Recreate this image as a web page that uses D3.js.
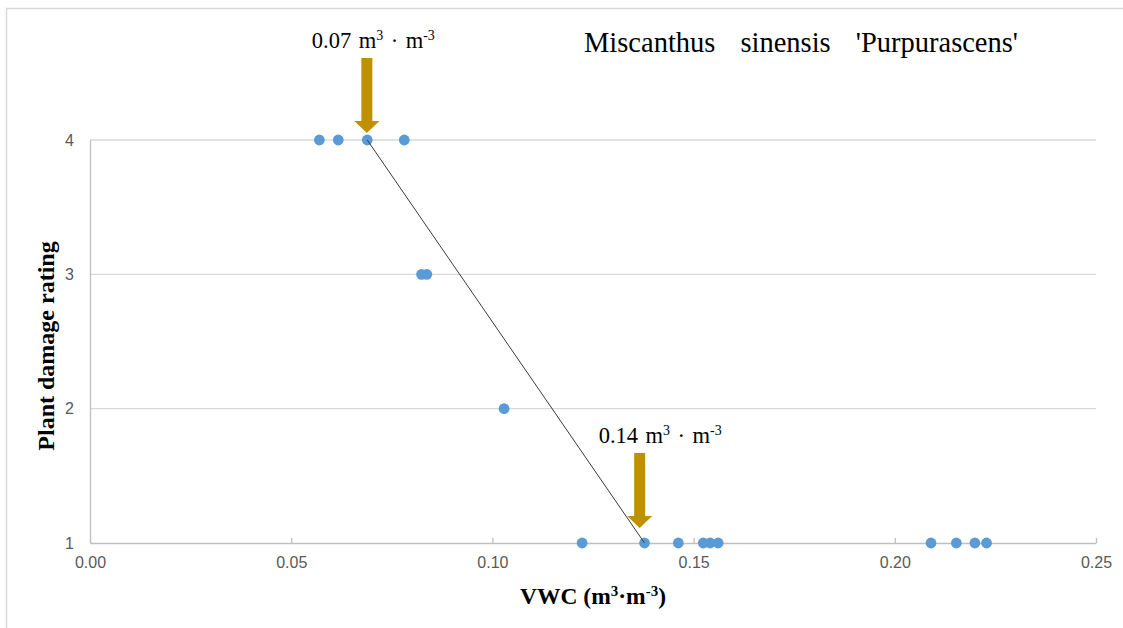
<!DOCTYPE html>
<html>
<head>
<meta charset="utf-8">
<script src="https://cdn.jsdelivr.net/npm/d3@7"></script>
<style>
  html, body { margin: 0; padding: 0; background: #fff; }
  svg { display: block; }
</style>
</head>
<body>
<svg id="chart" width="1123" height="628"></svg>
<script>
// Observed volumetric water content (m3/m3) and the damage rating recorded for each plant
const vwc = [0.0570, 0.0617, 0.0689, 0.0781,
             0.0824, 0.0837,
             0.1029,
             0.1223, 0.1378, 0.1462, 0.1524, 0.1541, 0.1561,
             0.2090, 0.2153, 0.2199, 0.2228];
const rating = [4, 4, 4, 4,
                3, 3,
                2,
                1, 1, 1, 1, 1, 1,
                1, 1, 1, 1];

// Fitted decline between the last fully damaged and first undamaged reading
const fitX = [0.0689, 0.1378];
const fitY = [4, 1];

// Threshold callouts
const calloutX = [0.0688, 0.1366];
const calloutY = [4, 1];
const calloutValue = ["0.07", "0.14"];

const xTicks = [0.00, 0.05, 0.10, 0.15, 0.20, 0.25];
const yTicks = [1, 2, 3, 4];

const title = "Miscanthus sinensis 'Purpurascens'";
const xTitle = "VWC";
const yTitle = "Plant damage rating";

const serif = "'Liberation Serif', 'Times New Roman', serif";
const sans = "'Liberation Sans', Arial, sans-serif";

const svg = d3.select("#chart");

// chart frame
svg.append("rect")
  .attr("x", 6.5).attr("y", 8.5)
  .attr("width", 1130).attr("height", 640)
  .attr("fill", "none").attr("stroke", "#D9D9D9").attr("stroke-width", 1.5);

const plot = { left: 90, right: 1096, top: 140, bottom: 543 };

const x = d3.scaleLinear().domain([0, 0.25]).range([plot.left, plot.right]);
const y = d3.scaleLinear().domain([1, 4]).range([plot.bottom, plot.top]);

// horizontal gridlines
svg.append("g")
  .selectAll("line")
  .data(yTicks.filter(v => v > 1))
  .join("line")
  .attr("x1", plot.left).attr("x2", plot.right)
  .attr("y1", d => y(d)).attr("y2", d => y(d))
  .attr("stroke", "#D9D9D9").attr("stroke-width", 1.3);

// x axis with inward ticks
const xAxis = d3.axisBottom(x)
  .tickValues(xTicks)
  .tickFormat(d3.format(".2f"))
  .tickSizeInner(-5)
  .tickSizeOuter(0)
  .tickPadding(14);

const gx = svg.append("g")
  .attr("transform", `translate(0,${plot.bottom})`)
  .call(xAxis);
gx.select(".domain").attr("stroke", "#BFBFBF").attr("stroke-width", 1.3);
gx.selectAll(".tick line").attr("stroke", "#BFBFBF").attr("stroke-width", 1.3);
gx.selectAll(".tick text")
  .attr("fill", "#595959")
  .attr("font-family", sans)
  .attr("font-size", 16);

// y axis
const yAxis = d3.axisLeft(y)
  .tickValues(yTicks)
  .tickFormat(d3.format("d"))
  .tickSize(0)
  .tickPadding(16);

const gy = svg.append("g")
  .attr("transform", `translate(${plot.left},0)`)
  .call(yAxis);
gy.select(".domain").attr("stroke", "#BFBFBF").attr("stroke-width", 1.3);
gy.selectAll(".tick text")
  .attr("fill", "#595959")
  .attr("font-family", sans)
  .attr("font-size", 16);

// observations
svg.append("g")
  .selectAll("circle")
  .data(vwc.map((v, i) => [v, rating[i]]))
  .join("circle")
  .attr("cx", d => x(d[0]))
  .attr("cy", d => y(d[1]))
  .attr("r", 5.4)
  .attr("fill", "#5B9BD5");

// fitted line
svg.append("path")
  .datum(fitX.map((v, i) => [v, fitY[i]]))
  .attr("d", d3.line().x(d => x(d[0])).y(d => y(d[1])))
  .attr("fill", "none")
  .attr("stroke", "#3A3A3A")
  .attr("stroke-width", 1);

// stretch a text's word gaps so that it spans a given width
function spreadTo(sel, width) {
  const w = sel.node().getComputedTextLength();
  const txt = sel.text();
  const gaps = (txt.match(/ /g) || []).length;
  if (gaps > 0) sel.attr("word-spacing", Math.max(0, (width - w) / gaps));
}

// unit label helper: "<value> m³ · m⁻³"
function unitText(sel, value, size) {
  const sup = size * 0.62, up = size * 0.36;
  sel.append("tspan").text(value + " m");
  sel.append("tspan").attr("dy", -up).attr("font-size", sup).text("3");
  sel.append("tspan").attr("dy", up).text(" \u00B7 m");
  sel.append("tspan").attr("dy", -up).attr("font-size", sup).text("-3");
}

// callout arrows
const arrowGap = [7, 15];
const labelDx = [-55, -41];
const labelWidth = 123;
const shaftLen = 63, headLen = 12, shaftHalf = 5.5, headHalf = 12.5;
const gold = "#BF9000";

calloutX.forEach((cv, i) => {
  const ax = x(cv);
  const tip = y(calloutY[i]) - arrowGap[i];
  const headTop = tip - headLen;
  const top = headTop - shaftLen;
  const pts = [
    [ax - shaftHalf, top], [ax + shaftHalf, top],
    [ax + shaftHalf, headTop], [ax + headHalf, headTop],
    [ax, tip],
    [ax - headHalf, headTop], [ax - shaftHalf, headTop]
  ];
  svg.append("polygon")
    .attr("points", pts.map(p => p.join(",")).join(" "))
    .attr("fill", gold);

  const t = svg.append("text")
    .attr("x", ax + labelDx[i])
    .attr("y", top - 10)
    .attr("font-family", serif)
    .attr("font-size", 22.5)
    .attr("fill", "#000");
  unitText(t, calloutValue[i], 22.5);
  spreadTo(t, labelWidth);
});

// chart title
const tt = svg.append("text")
  .attr("x", 584)
  .attr("y", 52)
  .attr("font-family", serif)
  .attr("font-size", 28.5)
  .attr("fill", "#000")
  .text(title);
spreadTo(tt, 434);

// x axis title
const xs = 23.5, xsup = 15, xup = 8.5;
const xt = svg.append("text")
  .attr("x", (plot.left + plot.right) / 2)
  .attr("y", 604)
  .attr("text-anchor", "middle")
  .attr("font-family", serif)
  .attr("font-size", xs)
  .attr("font-weight", "bold")
  .attr("fill", "#000");
xt.append("tspan").text(xTitle + " (m");
xt.append("tspan").attr("dy", -xup).attr("font-size", xsup).text("3");
xt.append("tspan").attr("dy", xup).text("\u00B7m");
xt.append("tspan").attr("dy", -xup).attr("font-size", xsup).text("-3");
xt.append("tspan").attr("dy", xup).text(")");

// y axis title
svg.append("text")
  .attr("transform", `translate(54,346) rotate(-90)`)
  .attr("text-anchor", "middle")
  .attr("font-family", serif)
  .attr("font-size", 24)
  .attr("font-weight", "bold")
  .attr("fill", "#000")
  .text(yTitle);
</script>
</body>
</html>
